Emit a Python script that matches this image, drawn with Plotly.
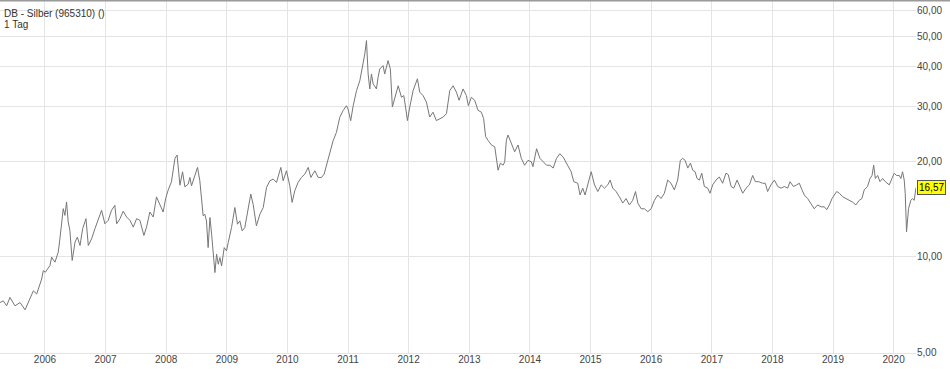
import math
import plotly.graph_objects as go

title_text = "DB - Silber (965310) ()"
period_text = "1 Tag"
last_label = "16,57"
last_value = 16.57

dates = [
    "2005-04-05", "2005-04-25", "2005-05-15", "2005-06-04", "2005-07-04", "2005-08-04", "2005-09-03",
    "2005-10-03", "2005-10-23", "2005-11-12", "2005-12-12", "2005-12-22", "2006-01-03", "2006-01-31",
    "2006-02-10", "2006-03-02", "2006-03-22", "2006-04-01", "2006-04-11", "2006-04-21", "2006-05-01",
    "2006-05-11", "2006-05-21", "2006-05-31", "2006-06-14", "2006-07-01", "2006-07-15", "2006-07-31",
    "2006-08-16", "2006-09-05", "2006-09-19", "2006-10-09", "2006-10-29", "2006-11-18", "2006-12-08",
    "2006-12-28", "2007-01-17", "2007-02-06", "2007-02-26", "2007-03-09", "2007-03-29", "2007-04-17",
    "2007-05-08", "2007-05-28", "2007-06-17", "2007-07-07", "2007-07-27", "2007-08-20", "2007-09-05",
    "2007-09-25", "2007-10-15", "2007-11-04", "2007-11-24", "2007-12-14", "2007-12-29", "2008-01-13",
    "2008-02-02", "2008-02-23", "2008-03-07", "2008-03-24", "2008-04-09", "2008-04-23",
    "2008-05-13", "2008-05-23", "2008-06-02", "2008-06-22", "2008-07-08", "2008-07-22", "2008-08-11",
    "2008-08-21", "2008-08-31", "2008-09-10", "2008-09-21", "2008-10-01", "2008-10-11", "2008-10-21",
    "2008-10-31", "2008-11-10", "2008-11-20", "2008-11-30", "2008-12-16", "2008-12-30", "2009-01-09",
    "2009-01-29", "2009-02-18", "2009-03-06", "2009-03-20", "2009-04-03", "2009-04-19", "2009-05-05",
    "2009-05-25", "2009-06-08", "2009-06-28", "2009-07-19", "2009-08-08", "2009-08-28", "2009-09-17",
    "2009-10-07", "2009-10-27", "2009-11-22", "2009-12-06", "2009-12-26", "2010-01-15", "2010-01-29",
    "2010-02-14", "2010-03-06", "2010-03-26", "2010-04-16", "2010-05-06", "2010-05-22", "2010-06-15",
    "2010-07-05", "2010-07-25", "2010-08-10", "2010-08-24", "2010-09-13", "2010-10-03", "2010-10-23",
    "2010-11-12", "2010-12-02", "2010-12-22", "2011-01-01", "2011-01-17", "2011-02-01", "2011-02-21",
    "2011-03-13", "2011-04-02", "2011-04-12", "2011-04-22", "2011-05-02", "2011-05-12", "2011-05-22",
    "2011-06-01", "2011-06-21", "2011-07-01", "2011-07-11", "2011-07-31", "2011-08-10", "2011-08-30",
    "2011-09-13", "2011-09-25", "2011-10-10", "2011-10-30", "2011-11-19", "2011-12-03", "2011-12-15",
    "2011-12-25", "2012-01-08", "2012-01-28", "2012-02-23", "2012-03-08", "2012-03-28", "2012-04-17",
    "2012-05-07", "2012-05-27", "2012-06-16", "2012-07-06", "2012-07-27", "2012-08-16", "2012-09-05",
    "2012-09-25", "2012-10-15", "2012-10-31", "2012-11-24", "2012-12-14", "2012-12-26", "2013-01-13",
    "2013-02-02", "2013-02-22", "2013-03-14", "2013-03-28", "2013-04-09", "2013-04-23", "2013-05-14",
    "2013-06-03", "2013-06-23", "2013-07-07", "2013-07-23", "2013-08-02", "2013-08-12", "2013-08-22",
    "2013-09-11", "2013-10-01", "2013-10-21", "2013-11-10", "2013-11-30", "2013-12-20", "2014-01-09",
    "2014-01-19", "2014-02-10", "2014-03-02", "2014-03-22", "2014-04-11", "2014-05-01", "2014-05-21",
    "2014-06-10", "2014-06-30", "2014-07-20", "2014-08-08",
    "2014-08-21", "2014-09-06", "2014-09-22", "2014-10-16", "2014-10-30", "2014-11-15", "2014-11-29",
    "2014-12-15", "2015-01-05", "2015-01-25", "2015-02-14", "2015-03-06", "2015-03-26", "2015-04-15",
    "2015-04-29", "2015-05-15", "2015-06-04", "2015-06-24", "2015-07-14", "2015-08-03", "2015-08-23",
    "2015-09-12", "2015-09-29", "2015-10-13", "2015-11-02", "2015-11-22", "2015-12-12", "2016-01-01",
    "2016-01-21", "2016-02-10", "2016-03-01", "2016-03-21", "2016-04-10", "2016-04-30", "2016-05-20",
    "2016-06-09", "2016-06-25", "2016-07-09", "2016-07-24", "2016-08-09", "2016-08-25", "2016-09-08",
    "2016-09-22", "2016-10-04", "2016-10-18", "2016-11-01", "2016-11-17", "2016-12-07", "2016-12-21",
    "2017-01-06", "2017-01-26", "2017-02-15", "2017-03-07", "2017-03-27", "2017-04-10", "2017-04-27",
    "2017-05-13", "2017-06-02", "2017-06-22", "2017-07-06", "2017-07-26", "2017-08-15",
    "2017-09-04", "2017-09-20", "2017-10-10", "2017-11-03", "2017-11-19", "2017-12-03", "2017-12-23",
    "2018-01-13", "2018-02-02", "2018-02-22", "2018-03-14", "2018-04-03", "2018-04-17", "2018-05-07",
    "2018-05-27", "2018-06-12", "2018-06-28", "2018-07-12", "2018-08-01", "2018-08-21", "2018-09-10",
    "2018-09-30", "2018-10-21", "2018-11-10", "2018-11-24", "2018-12-10", "2018-12-26", "2019-01-09",
    "2019-01-23", "2019-02-08", "2019-02-28", "2019-03-20", "2019-04-09", "2019-04-29", "2019-05-19",
    "2019-06-08", "2019-06-24", "2019-07-08", "2019-07-28", "2019-08-12", "2019-08-24", "2019-09-03",
    "2019-09-13", "2019-09-27", "2019-10-11", "2019-10-27", "2019-11-12", "2019-11-26", "2019-12-06",
    "2019-12-22", "2020-01-05", "2020-01-19", "2020-02-04", "2020-02-14", "2020-02-24", "2020-03-05",
    "2020-03-11", "2020-03-19", "2020-03-31", "2020-04-14", "2020-04-24", "2020-05-04", "2020-05-15",
]

prices = [
    7.17, 7.26, 7.00, 7.44, 7.00, 7.17, 6.80,
    7.35, 7.81, 7.63, 8.51, 9.05, 8.94, 9.39,
    9.98, 9.62, 10.35, 11.41, 12.73, 14.21, 13.53,
    14.92, 12.89, 12.13, 9.74, 11.13, 11.55, 10.86,
    12.28, 13.21, 10.86, 11.41, 12.28, 13.21, 14.04,
    12.73, 13.05, 14.04, 14.56, 12.73, 13.21, 13.94,
    13.37, 13.05, 12.42, 13.21, 13.05, 11.69, 12.42,
    13.87, 13.37, 15.48, 14.56, 13.87, 15.29, 16.26,
    17.28, 20.49, 21.00, 16.86, 18.59, 16.66,
    16.99, 17.84, 16.79, 18.28, 19.19, 17.41, 13.49,
    13.65, 13.00, 10.70, 13.32, 11.80, 10.45, 8.92,
    10.20, 9.48, 9.95, 9.36, 10.70, 10.45, 11.10,
    12.38, 14.33, 12.69, 13.00, 12.09, 12.38, 13.99,
    15.80, 14.68, 12.54, 13.65, 14.33, 16.59, 17.41,
    17.63, 17.20, 19.19, 17.41, 18.73, 16.79, 14.87,
    16.19, 17.20, 17.84, 18.28, 19.19, 17.84, 18.73,
    17.84, 17.84, 18.28, 19.42, 21.41, 23.31, 24.77,
    27.64, 29.02, 30.09, 29.36, 26.98, 30.09, 33.57,
    36.12, 40.79, 43.86, 48.36, 37.92, 33.98, 37.92,
    35.3, 34.0, 37.0, 39.3, 40.3, 37.9, 41.8,
    39.3, 29.8, 32.0, 34.8, 32.0, 32.4, 29.4,
    27.0, 29.8, 33.6, 36.6, 33.2, 32.4, 30.9,
    27.7, 28.7, 27.0, 27.4, 27.7, 28.4, 33.6,
    34.8, 33.2, 31.3, 34.0, 32.4, 30.1, 32.0,
    31.3, 29.1, 28.7, 27.4, 24.0, 23.4, 22.6,
    22.3, 18.8, 19.8, 19.5, 20.0, 23.4, 24.3,
    22.8, 21.5, 22.6, 20.5, 19.5, 20.2, 20.0,
    19.3, 22.0, 20.5, 20.0, 19.5, 19.5, 19.1,
    20.5, 21.2, 20.7, 19.8,
    19.3, 18.6, 17.3, 17.1, 15.7, 16.5, 15.7,
    16.9, 18.6, 16.9, 16.1, 16.9, 16.5, 16.9,
    17.5, 16.5, 16.1, 15.5, 14.8, 15.3, 14.6,
    15.1, 16.1, 14.8, 14.2, 14.2, 13.9, 14.2,
    15.1, 15.7, 15.3, 15.9, 17.5, 17.1, 16.3,
    17.5, 20.2, 20.5, 20.2, 19.1, 19.8, 18.8,
    18.6, 17.7, 17.5, 18.4, 16.7, 16.5, 15.9,
    16.9, 17.5, 17.9, 17.1, 18.4, 18.2, 16.7,
    16.5, 17.5, 16.5, 15.9, 16.5, 16.9,
    18.1, 17.3, 17.3, 17.1, 17.1, 16.1, 16.9,
    17.5, 16.7, 16.5, 16.7, 16.5, 17.3, 16.7,
    16.9, 17.1, 16.3, 15.7, 15.3, 14.8, 14.2,
    14.6, 14.4, 14.4, 14.1, 14.6, 15.3, 15.7,
    16.1, 15.9, 15.5, 15.3, 15.1, 14.9, 14.6,
    15.1, 15.3, 16.3, 16.7, 17.7, 18.1, 19.5,
    17.7, 18.1, 17.3, 17.7, 17.3, 17.1, 16.9,
    17.7, 18.4, 18.1, 18.1, 17.7, 18.6, 17.5,
    15.9, 12.0, 14.2, 15.1, 15.3, 15.1, 16.57,
]

y_tickvals = [5, 10, 20, 30, 40, 50, 60]
y_ticktext = ["5,00", "10,00", "20,00", "30,00", "40,00", "50,00", "60,00"]
x_range = ["2005-04-05", "2020-05-15"]
y_range = [4.964, 65.0]

FONT = "Liberation Sans, Arial, Helvetica, sans-serif"
GRID = "#e4e4e4"

fig = go.Figure()
fig.add_trace(go.Scatter(
    x=dates, y=prices, mode="lines",
    line=dict(color="#777777", width=1),
    hoverinfo="skip", showlegend=False,
))

fig.update_layout(
    width=950, height=369,
    margin=dict(l=0, r=34, t=0, b=16, pad=0),
    paper_bgcolor="white", plot_bgcolor="white",
    showlegend=False,
    font=dict(family=FONT, size=10, color="#444"),
    xaxis=dict(
        type="date", range=x_range,
        tick0="2006-01-01", dtick="M12", tickformat="%Y",
        showgrid=True, gridcolor=GRID, gridwidth=1,
        showline=True, linecolor=GRID, linewidth=1,
        ticks="", zeroline=False,
        ticklabelstandoff=-3,
        tickfont=dict(family=FONT, size=10, color="#444"),
        fixedrange=True,
    ),
    yaxis=dict(
        type="log", side="right",
        range=[math.log10(y_range[0]), math.log10(y_range[1])],
        tickvals=y_tickvals, ticktext=y_ticktext,
        showgrid=True, gridcolor=GRID, gridwidth=1,
        showline=False, ticks="", zeroline=False,
        tickfont=dict(family=FONT, size=10, color="#444"),
        fixedrange=True,
    ),
    shapes=[dict(
        type="line", xref="paper", yref="paper",
        x0=0, x1=1.04, y0=1, y1=1,
        line=dict(color="#9a9a9a", width=3),
    )],
    annotations=[
        dict(text=title_text, x=0, y=1, xref="paper", yref="paper",
             xanchor="left", yanchor="top", xshift=2, yshift=-6,
             showarrow=False, font=dict(family=FONT, size=10, color="#333")),
        dict(text=period_text, x=0, y=1, xref="paper", yref="paper",
             xanchor="left", yanchor="top", xshift=2, yshift=-17,
             showarrow=False, font=dict(family=FONT, size=10, color="#333")),
        dict(text=last_label, x=1, y=math.log10(last_value), xref="paper", yref="y",
             xanchor="left", yanchor="middle", xshift=1,
             showarrow=False, bgcolor="#ffff00", bordercolor="#555555",
             borderwidth=1, borderpad=1,
             font=dict(family=FONT, size=10, color="#000")),
    ],
)

fig.write_html("out.html", config={"displayModeBar": False},
               post_script="document.body.style.margin='0';document.body.style.overflow='hidden';")
